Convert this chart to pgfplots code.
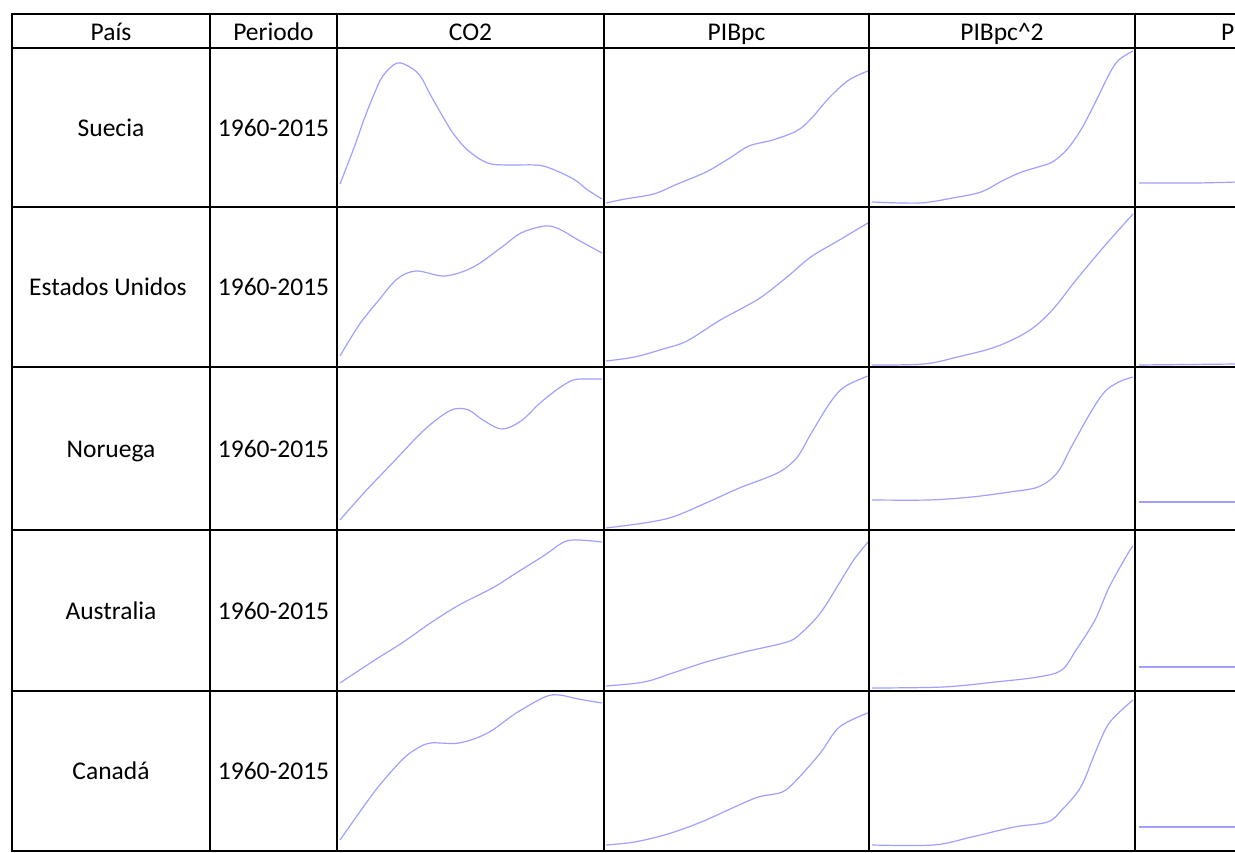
\documentclass[border=0pt]{standalone}
\usepackage{pgfplots}
\pgfplotsset{compat=1.18}
\usepackage{fontspec}
\setmainfont{Carlito}
\definecolor{sparkblue}{RGB}{160,160,255}
\newcommand{\spark}[5]{%
\begin{axis}[at={(#1pt,#2pt)},anchor=south west,width=#3pt,height=#4pt,scale only axis,
  xmin=1960,xmax=2015,ymin=0,ymax=#4,hide axis,clip=false]
\addplot[sparkblue,line width=1.2pt,smooth,tension=0.55,no markers] coordinates {#5};
\end{axis}}
\begin{document}
\begin{tikzpicture}[x=1pt,y=1pt,every node/.style={inner sep=0pt,font=\fontsize{25.5}{30}\selectfont}]
\useasboundingbox (0,0) rectangle (1235,853);
\begin{scope}
\clip (0,0) rectangle (1235,853);
% ---- CO2 column ----
\spark{340}{646}{262}{159}{(1960,23) (1963,60) (1965,87) (1967,111) (1969,131) (1972,144) (1975,139) (1977,130) (1979,112) (1982,87) (1984,72) (1987,56) (1991,44) (1995,42) (2001,42) (2004,39) (2009,28) (2012,17) (2015,8)}
\spark{340}{486}{262}{160}{(1960,11) (1964,42) (1968,66) (1972,88) (1976,96) (1982,91) (1988,100) (1994,120) (1998,134) (2003,141) (2006,138) (2010,127) (2015,114)}
\spark{340}{323}{262}{163}{(1960,10) (1965,37) (1971,67) (1977,97) (1981,113) (1984,121) (1987,120) (1990,110) (1994,101) (1998,109) (2002,127) (2006,142) (2009,150) (2012,151) (2015,151)}
\spark{340}{162}{262}{161}{(1960,8) (1967,30) (1973,48) (1979,68) (1985,86) (1992,103) (1997,118) (2003,136) (2007,149) (2010,151) (2015,149)}
\spark{340}{2}{262}{160}{(1960,11) (1964,38) (1968,64) (1973,91) (1976,102) (1979,108) (1985,108) (1991,118) (1997,138) (2003,154) (2006,156) (2010,152) (2015,148)}
% ---- PIBpc column ----
\spark{606}{646}{262}{159}{(1960,4) (1964,8) (1970,13) (1975,23) (1981,35) (1986,49) (1990,61) (1995,67) (2000,76) (2003,88) (2007,110) (2011,127) (2015,136)}
\spark{606}{486}{262}{160}{(1960,6) (1966,10) (1972,18) (1977,26) (1984,47) (1992,68) (1998,90) (2003,110) (2009,127) (2015,144)}
\spark{606}{323}{262}{163}{(1960,2) (1968,7) (1974,13) (1981,27) (1988,42) (1996,57) (2000,72) (2003,96) (2007,127) (2010,143) (2015,154)}
\spark{606}{162}{262}{161}{(1960,5) (1968,9) (1974,18) (1981,29) (1989,39) (1998,49) (2001,58) (2005,78) (2009,108) (2012,131) (2015,149)}
\spark{606}{2}{262}{160}{(1960,6) (1966,9) (1973,17) (1980,29) (1987,44) (1992,54) (1997,59) (2000,71) (2005,98) (2009,124) (2015,138)}
% ---- PIBpc^2 column ----
\spark{872}{646}{261}{159}{(1960,5) (1970,4) (1977,9) (1983,15) (1987,25) (1991,34) (1995,40) (1998,45) (2001,57) (2004,77) (2007,104) (2010,133) (2012,147) (2015,156)}
\spark{872}{486}{261}{160}{(1960,2) (1971,3) (1978,10) (1986,20) (1993,36) (1998,57) (2003,87) (2009,121) (2015,153)}
\spark{872}{323}{261}{163}{(1960,30) (1972,30) (1981,33) (1989,38) (1995,43) (1999,57) (2002,83) (2006,117) (2009,138) (2012,148) (2015,153)}
\spark{872}{162}{261}{161}{(1960,3) (1975,4) (1986,9) (1995,14) (2000,21) (2003,41) (2007,71) (2010,104) (2014,138) (2015,145)}
\spark{872}{2}{261}{160}{(1960,6) (1973,6) (1981,14) (1990,24) (1997,29) (2000,41) (2004,64) (2007,98) (2010,128) (2015,151)}
% ---- P... column (cut off) ----
\spark{1139}{646}{261}{159}{(1960,24) (1972,24) (1981,25)}
\spark{1139}{486}{261}{160}{(1960,2) (1981,3)}
\spark{1139}{323}{261}{163}{(1960,28) (1981,28)}
\spark{1139}{162}{261}{161}{(1960,24) (1981,24)}
\spark{1139}{2}{261}{160}{(1960,24) (1981,24)}
% ---- grid ----
\foreach \y in {839,805,646,486,323,162,2} \draw[line width=2.2pt] (11,\y) -- (1240,\y);
\foreach \x in {12,210,337,604,869,1135} \draw[line width=2.2pt] (\x,840) -- (\x,1);
% ---- text ----
\node[anchor=base] at (111,812) {País};
\node[anchor=base] at (273.5,812) {Periodo};
\node[anchor=base] at (470.5,812) {CO2};
\node[anchor=base] at (736.5,812) {PIBpc};
\node[anchor=base] at (1002,812) {PIBpc\textasciicircum 2};
\node[anchor=base west] at (1221,812) {P};
\node[anchor=base] at (111,716.5) {Suecia};
\node[anchor=base] at (108,557) {Estados Unidos};
\node[anchor=base] at (111,395.5) {Noruega};
\node[anchor=base] at (111,233.5) {Australia};
\node[anchor=base] at (111,73) {Canadá};
\foreach \yb in {716.5,557,395.5,233.5,73} \node[anchor=base] at (273.5,\yb) {1960-2015};
\end{scope}
\end{tikzpicture}
\end{document}
